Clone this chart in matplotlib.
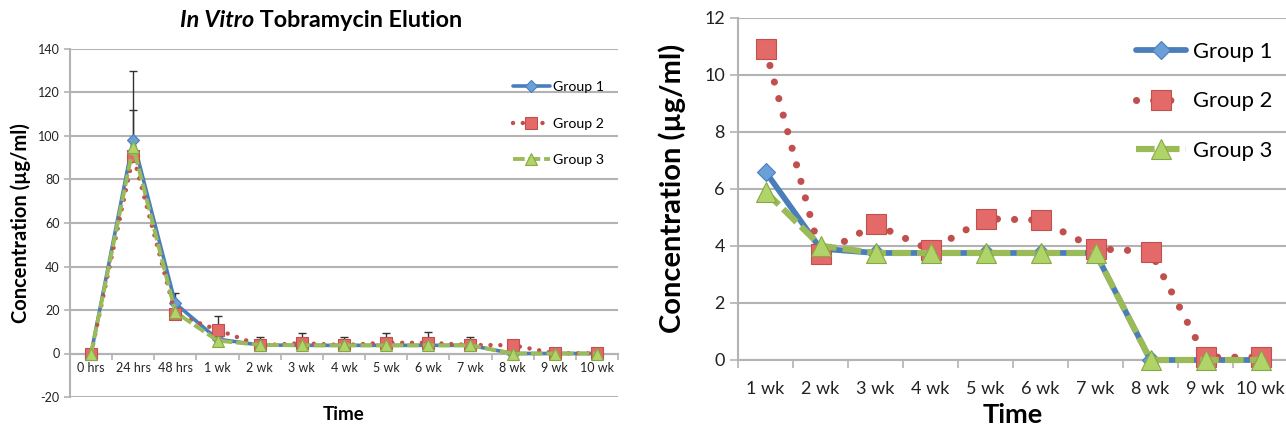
import numpy as np
import matplotlib
matplotlib.use("Agg")
import matplotlib.pyplot as plt
from matplotlib.ticker import FixedLocator, NullFormatter

plt.rcParams['font.family'] = ['Lato', 'DejaVu Sans']
plt.rcParams['axes.unicode_minus'] = False

# time points
hrs_labels = ['0 hrs', '24 hrs', '48 hrs']
wk_labels = ['1 wk', '2 wk', '3 wk', '4 wk', '5 wk', '6 wk', '7 wk', '8 wk', '9 wk', '10 wk']

# concentrations (ug/ml)
g1_hrs = [0, 98, 23]
g2_hrs = [0, 91, 18]
g3_hrs = [0, 95, 19]
g1_wk = [6.6, 3.9, 3.75, 3.75, 3.75, 3.75, 3.75, 0, 0, 0]
g2_wk = [10.9, 3.7, 4.75, 3.85, 4.95, 4.9, 3.9, 3.8, 0.1, 0.1]
g3_wk = [5.9, 4.0, 3.75, 3.75, 3.75, 3.75, 3.75, 0, 0, 0]

# upper error bars on the full time course
g1_err = [0, 14, 5, 0, 0, 0, 0, 0, 0, 0, 0, 0, 0]
g2_err = [0, 39, 0, 6.5, 4, 4.5, 3.7, 4.5, 5, 3.6, 0, 0, 0]

blue = '#4a7ebb'
blue_fill = '#6a9fd8'
red = '#c0504d'
red_fill = '#e46a6a'
green = '#9bbb59'
green_fill = '#b0d468'
grid_col = '#b3b3b3'

W, H = 1286, 429
fig = plt.figure(figsize=(W / 100, H / 100), dpi=100)


def style_axes(ax, n, lo, hi, step, tick_size, pad):
    ax.set_xlim(-0.5, n - 0.5)
    ax.set_ylim(lo, hi)
    ax.set_yticks(np.arange(lo, hi + step / 2, step))
    ax.yaxis.grid(True, color=grid_col, lw=1.5)
    ax.set_axisbelow(True)
    for s in ['top', 'right']:
        ax.spines[s].set_visible(False)
    for s in ['left', 'bottom']:
        ax.spines[s].set_color(grid_col)
        ax.spines[s].set_linewidth(1.5)
    ax.spines['bottom'].set_position(('data', 0))
    ax.xaxis.set_minor_locator(FixedLocator(np.arange(-0.5, n, 1.0)))
    ax.xaxis.set_minor_formatter(NullFormatter())
    ax.tick_params(axis='x', which='major', length=0, pad=pad, labelsize=tick_size, colors='#222222')
    ax.tick_params(axis='x', which='minor', length=4, width=1.2, color=grid_col)
    ax.tick_params(axis='y', length=4, width=1.2, color=grid_col, labelsize=tick_size, labelcolor='#222222')


def draw_groups(ax, x, a, b, c, scale, gap):
    ax.plot(x, a, color=blue, lw=2.6 * scale, marker='D', ms=6 * scale, mfc=blue_fill, mec=blue,
            mew=0.8, solid_capstyle='round', zorder=3, clip_on=False, label='Group 1')
    ax.plot(x, b, color=red, lw=3.2 * scale, ls=(0, (0.01, gap)), dash_capstyle='round',
            marker='s', ms=9 * scale, mfc=red_fill, mec=red, mew=0.8, zorder=4, clip_on=False, label='Group 2')
    ax.plot(x, c, color=green, lw=2.8 * scale, ls=(0, (3, 1.0)), marker='^', ms=9 * scale,
            mfc=green_fill, mec='#86a846', mew=0.8, zorder=5, clip_on=False, label='Group 3')


# ---- left: full time course ----
labels_all = hrs_labels + wk_labels
x_all = np.arange(len(labels_all))
ax1 = fig.add_axes([70 / W, 1 - 397 / H, 548 / W, 348 / H])
style_axes(ax1, len(labels_all), -20, 140, 20, 9, 6)

y1 = np.array(g1_hrs + g1_wk)
y2 = np.array(g2_hrs + g2_wk)
y3 = np.array(g3_hrs + g3_wk)
for y, e in [(y1, np.array(g1_err)), (y2, np.array(g2_err))]:
    m = e > 0
    ax1.errorbar(x_all[m], y[m], yerr=[np.zeros(m.sum()), e[m]], fmt='none', ecolor='#333333',
                 elinewidth=1, capsize=3, capthick=1, zorder=2)
draw_groups(ax1, x_all, y1, y2, y3, 1.0, 2.2)
ax1.set_xticks(x_all)
ax1.set_xticklabels(labels_all)
ax1.set_ylabel('Concentration (µg/ml)', fontsize=14.5, fontweight='bold')
ax1.yaxis.set_label_coords(-0.072, 0.5)
ax1.set_xlabel('Time', fontsize=13.5, fontweight='bold')
ax1.xaxis.set_label_coords(0.5, -0.025)
ax1.legend(loc='upper left', bbox_to_anchor=(500 / W, 1 - 68 / H), bbox_transform=fig.transFigure,
           frameon=False, fontsize=10.2, handlelength=2.6, handletextpad=0.25, labelspacing=1.75, numpoints=1)

t1 = fig.text(180 / W, 1 - 31 / H, 'In Vitro', fontsize=16.8, fontweight='bold', style='italic',
              ha='left', va='bottom')
ax1.annotate(' Tobramycin Elution', xy=(1, 0), xycoords=t1, fontsize=16.8, fontweight='bold',
             ha='left', va='bottom')

# ---- right: weekly detail ----
x_wk = np.arange(len(wk_labels))
ax2 = fig.add_axes([738 / W, 1 - 360 / H, 550 / W, 342.5 / H])
style_axes(ax2, len(wk_labels), 0, 12, 2, 13, 15)
ax2.tick_params(axis='x', which='minor', length=6)
ax2.tick_params(axis='y', length=6)
draw_groups(ax2, x_wk, g1_wk, g2_wk, g3_wk, 1.6, 2.4)
ax2.set_xticks(x_wk)
ax2.set_xticklabels(wk_labels)
ax2.set_ylabel('Concentration (µg/ml)', fontsize=21, fontweight='bold')
ax2.yaxis.set_label_coords(-0.095, 0.5)
ax2.set_xlabel('Time', fontsize=19.5, fontweight='bold')
ax2.xaxis.set_label_coords(0.5, -0.125)
ax2.legend(loc='upper left', bbox_to_anchor=(1116 / W, 1 - 22 / H), bbox_transform=fig.transFigure,
           frameon=False, fontsize=15.8, handlelength=2.3, handletextpad=0.3, labelspacing=1.35, numpoints=1)

fig.savefig('out.png', dpi=100)
